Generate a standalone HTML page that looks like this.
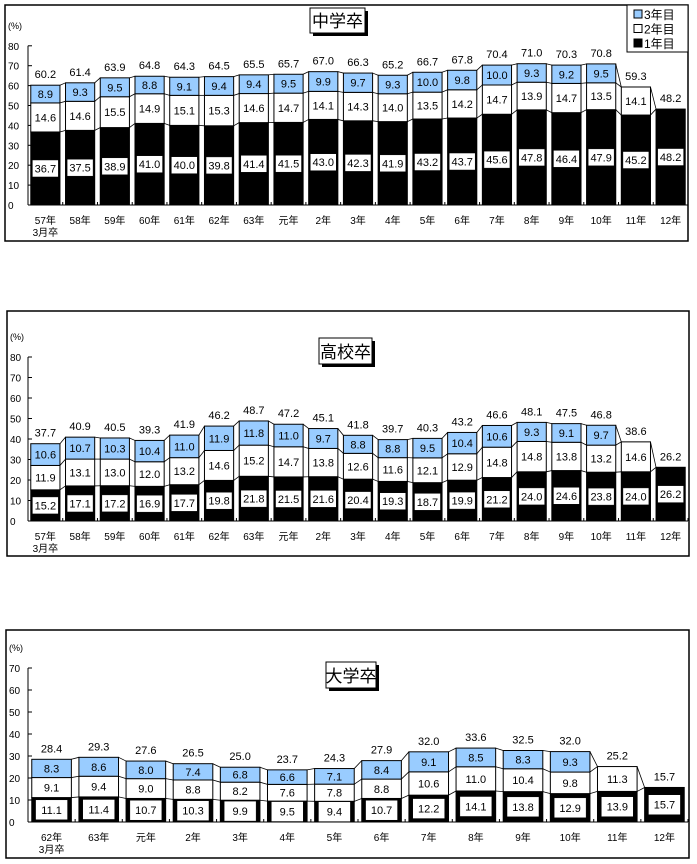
<!DOCTYPE html>
<html><head><meta charset="utf-8">
<style>
body{margin:0;background:#fff;}
svg{display:block;font-family:"Liberation Sans","Noto Sans CJK JP",sans-serif;}
</style></head>
<body>
<svg id="c" width="697" height="864" viewBox="0 0 697 864" xmlns="http://www.w3.org/2000/svg"></svg>
<script>
// Panel 1: 中学卒
const catsA = ["57年","58年","59年","60年","61年","62年","63年","元年","2年","3年","4年","5年","6年","7年","8年","9年","10年","11年","12年"];
const jhY1 = [36.7,37.5,38.9,41.0,40.0,39.8,41.4,41.5,43.0,42.3,41.9,43.2,43.7,45.6,47.8,46.4,47.9,45.2,48.2];
const jhY2 = [14.6,14.6,15.5,14.9,15.1,15.3,14.6,14.7,14.1,14.3,14.0,13.5,14.2,14.7,13.9,14.7,13.5,14.1,null];
const jhY3 = [8.9,9.3,9.5,8.8,9.1,9.4,9.4,9.5,9.9,9.7,9.3,10.0,9.8,10.0,9.3,9.2,9.5,null,null];
const jhTot = [60.2,61.4,63.9,64.8,64.3,64.5,65.5,65.7,67.0,66.3,65.2,66.7,67.8,70.4,71.0,70.3,70.8,59.3,48.2];
// Panel 2: 高校卒
const hsY1 = [15.2,17.1,17.2,16.9,17.7,19.8,21.8,21.5,21.6,20.4,19.3,18.7,19.9,21.2,24.0,24.6,23.8,24.0,26.2];
const hsY2 = [11.9,13.1,13.0,12.0,13.2,14.6,15.2,14.7,13.8,12.6,11.6,12.1,12.9,14.8,14.8,13.8,13.2,14.6,null];
const hsY3 = [10.6,10.7,10.3,10.4,11.0,11.9,11.8,11.0,9.7,8.8,8.8,9.5,10.4,10.6,9.3,9.1,9.7,null,null];
const hsTot = [37.7,40.9,40.5,39.3,41.9,46.2,48.7,47.2,45.1,41.8,39.7,40.3,43.2,46.6,48.1,47.5,46.8,38.6,26.2];
// Panel 3: 大学卒
const catsC = ["62年","63年","元年","2年","3年","4年","5年","6年","7年","8年","9年","10年","11年","12年"];
const uY1 = [11.1,11.4,10.7,10.3,9.9,9.5,9.4,10.7,12.2,14.1,13.8,12.9,13.9,15.7];
const uY2 = [9.1,9.4,9.0,8.8,8.2,7.6,7.8,8.8,10.6,11.0,10.4,9.8,11.3,null];
const uY3 = [8.3,8.6,8.0,7.4,6.8,6.6,7.1,8.4,9.1,8.5,8.3,9.3,null,null];
const uTot = [28.4,29.3,27.6,26.5,25.0,23.7,24.3,27.9,32.0,33.6,32.5,32.0,25.2,15.7];
const ticksA = [0,10,20,30,40,50,60,70,80];
const ticksC = [0,10,20,30,40,50,60,70];

const svg = document.getElementById('c');
const NS = 'http://www.w3.org/2000/svg';
function mk(tag, at, parent){
  const e = document.createElementNS(NS, tag);
  for (const k in at) e.setAttribute(k, at[k]);
  (parent||svg).appendChild(e);
  return e;
}
function txt(x,y,s,size,anchor,parent){
  const t = mk('text',{x:x,y:y,'font-size':size,'text-anchor':anchor||'middle',fill:'#000'},parent);
  t.textContent = s;
  return t;
}

function panel(cfg){
  const g = mk('g',{});
  
  
  const box = mk('rect',{x:cfg.bx,y:cfg.by,width:cfg.bw,height:cfg.bh,fill:'#fff',stroke:'#000','stroke-width':1.5},g);
  
  
  const x0 = 28, x1 = 688;
  const n = cfg.cats.length;
  const cw = (x1 - x0) / n;
  const bw = cw * 0.84;
  const yv = v => cfg.y0 - v * cfg.k;
  const xc = i => x0 + cw * (i + 0.5);
  const ax = mk('line',{x1:x0,y1:yv(cfg.ymax),x2:x0,y2:cfg.y0,stroke:'#000'},g);
  
  
  const pl = txt(cfg.bx+3, yv(cfg.ymax)-17, '(%)', 9, 'start', g);
  
  
  cfg.ticks.forEach(t=>{
    mk('line',{x1:x0,y1:yv(t),x2:x0+4,y2:yv(t),stroke:'#000'},g);
    const tl = txt(cfg.bx+3, yv(t)+4, String(t), 10, 'start', g);
    
    
  });
  const segs = [cfg.s1, cfg.s2, cfg.s3];
  const fills = ['#000','#fff','#99ccff'];
  for (let i=0;i<n;i++){
    let base = 0;
    const l = xc(i) - bw/2;
    for (let s=0;s<3;s++){
      const v = segs[s][i];
      if (v == null) continue;
      const r = mk('rect',{x:l,y:yv(base+v),width:bw,height:v*cfg.k,fill:fills[s],stroke:'#000','stroke-width':1},g);
      
      
      const mid = yv(base + v/2);
      if (s===0){
        const lw = cfg.lblW, lh = cfg.lblH;
        mk('rect',{x:xc(i)-lw/2,y:mid-lh/2,width:lw,height:lh,fill:'#fff',stroke:'#000','stroke-width':0.5},g);
      }
      const vl = txt(xc(i), mid+4, v.toFixed(1), 11, 'middle', g);
      
      
      base += v;
    }
    const tl = txt(xc(i), yv(base)-7, cfg.tot[i].toFixed(1), 11, 'middle', g);
    
    
    const cl = txt(xc(i), cfg.y0+19, cfg.cats[i], 10, 'middle', g);
    
    
    if (i===0){
      const cl2 = txt(xc(i), cfg.y0+31, '3月卒', 10, 'middle', g);
      
      
    }
  }
  for (let i=0;i<n-1;i++){
    let a=0,b=0;
    for (let s=0;s<3;s++){
      const va = segs[s][i], vb = segs[s][i+1];
      if (va!=null) a+=va;
      if (vb!=null) b+=vb;
      if (va==null) continue;
      mk('line',{x1:xc(i)+bw/2,y1:yv(a),x2:xc(i+1)-bw/2,y2:yv(b),stroke:'#000','stroke-width':0.8},g);
    }
  }
  const xa = mk('line',{x1:x0,y1:cfg.y0,x2:x1,y2:cfg.y0,stroke:'#000'},g);
  
  
  for (let i=0;i<=n;i++) mk('line',{x1:x0+cw*i,y1:cfg.y0,x2:x0+cw*i,y2:cfg.y0-3,stroke:'#000'},g);
  const t = cfg.title;
  mk('rect',{x:t.x+3,y:t.y+3,width:t.w,height:t.h,fill:'#000'},g);
  const tb = mk('rect',{x:t.x,y:t.y,width:t.w,height:t.h,fill:'#fff',stroke:'#000','stroke-width':1},g);
  
  
  const tt = txt(t.x+t.w/2, t.y+t.h-6, t.s, 17, 'middle', g);
  
  
}

panel({name:'junior-high-panel',bx:5,by:5,bw:683,bh:236,y0:205,k:1.99,ymax:80,ticks:ticksA,cats:catsA,s1:jhY1,s2:jhY2,s3:jhY3,tot:jhTot,lblW:26,lblH:17,title:{x:310,y:8,w:55,h:25,s:'中学卒'}});
panel({name:'high-school-panel',bx:7,by:311,bw:682,bh:245,y0:521,k:2.05,ymax:80,ticks:ticksA,cats:catsA,s1:hsY1,s2:hsY2,s3:hsY3,tot:hsTot,lblW:26,lblH:17,title:{x:319,y:338,w:53,h:26,s:'高校卒'}});
panel({name:'university-panel',bx:6,by:630,bw:683,bh:228,y0:822,k:2.2,ymax:70,ticks:ticksC,cats:catsC,s1:uY1,s2:uY2,s3:uY3,tot:uTot,lblW:32,lblH:20,title:{x:326,y:662,w:50,h:26,s:'大学卒'}});

const lg = mk('g',{});


mk('rect',{x:627,y:5,width:61,height:47,fill:'#fff',stroke:'#000','stroke-width':1},lg);
const li = [['3年目','#99ccff'],['2年目','#fff'],['1年目','#000']];
li.forEach((e,j)=>{
  const y = 14 + j*14.5;
  const sw = mk('rect',{x:634,y:y-4,width:8,height:8,fill:e[1],stroke:'#000','stroke-width':1},lg);
  
  
  const t = txt(644, y+5, e[0], 12, 'start', lg);
  
  
});
</script>
</body></html>
